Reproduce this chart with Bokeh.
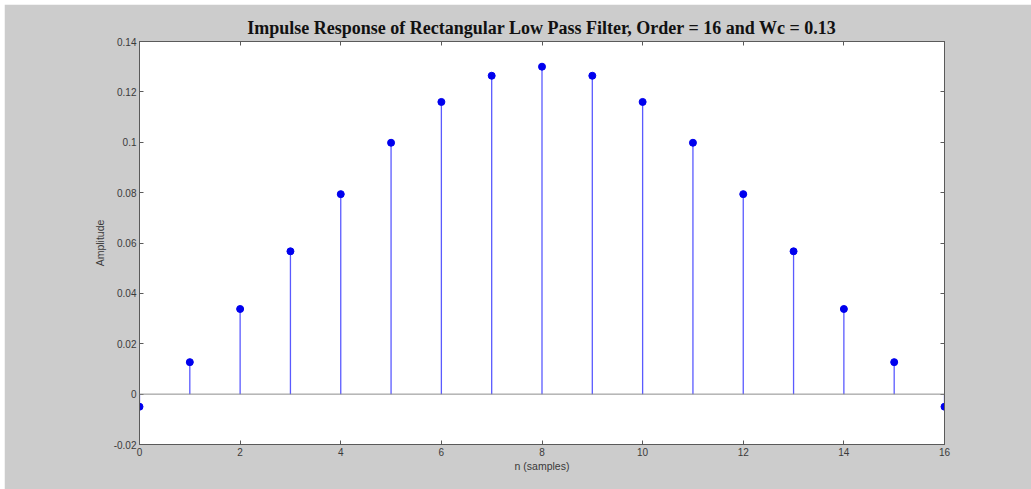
from bokeh.plotting import figure
from bokeh.models import LinearAxis, Range1d, FixedTicker, ColumnDataSource, Span
from bokeh.embed import file_html
from bokeh.resources import INLINE

# Impulse response samples h[n], n = 0..16
n = list(range(17))
h = [-0.0050, 0.0127, 0.0338, 0.0567, 0.0794, 0.0998, 0.1160, 0.1264, 0.1300,
     0.1264, 0.1160, 0.0998, 0.0794, 0.0567, 0.0338, 0.0127, -0.0050]

x_ticks = [0, 2, 4, 6, 8, 10, 12, 14, 16]
y_ticks = [-0.02, 0, 0.02, 0.04, 0.06, 0.08, 0.1, 0.12, 0.14]
y_tick_labels = {-0.02: "-0.02", 0: "0", 0.02: "0.02", 0.04: "0.04", 0.06: "0.06",
                 0.08: "0.08", 0.1: "0.1", 0.12: "0.12", 0.14: "0.14"}

title_text = "Impulse Response of Rectangular Low Pass Filter, Order = 16 and Wc = 0.13"
x_label = "n (samples)"
y_label = "Amplitude"

BG = "#cccccc"
AXIS = "#5a5a5a"
TXT = "#3a3a3a"

p = figure(width=1027, height=485, output_backend="svg", toolbar_location=None,
           x_range=Range1d(0, 16), y_range=Range1d(-0.02, 0.14),
           x_axis_type=None, y_axis_type=None,
           background_fill_color="white", border_fill_color=BG,
           min_border_left=135, min_border_right=87, min_border_top=37, min_border_bottom=45,
           outline_line_color=AXIS, outline_line_width=1,
           margin=(4, 0, 0, 4))
p.xgrid.visible = False
p.ygrid.visible = False

p.title.text = title_text
p.title.text_font = "Liberation Serif"
p.title.text_font_style = "bold"
p.title.text_font_size = "18px"
p.title.text_color = "#111111"
p.title.align = "center"
p.title.offset = 0
p.title.standoff = 8


def style_axis(ax, show_labels):
    ax.axis_line_color = AXIS
    ax.major_tick_line_color = AXIS
    ax.major_tick_in = 4
    ax.major_tick_out = 0
    ax.minor_tick_line_color = None
    ax.major_label_text_font = "Liberation Sans"
    ax.major_label_text_font_size = "10px"
    ax.major_label_text_color = TXT
    ax.axis_label_text_font = "Liberation Sans"
    ax.axis_label_text_font_size = "10.5px"
    ax.axis_label_text_font_style = "normal"
    ax.axis_label_text_color = TXT
    if not show_labels:
        ax.major_label_text_font_size = "0px"
        ax.major_label_text_color = None


xb = LinearAxis(ticker=FixedTicker(ticks=x_ticks), axis_label=x_label)
style_axis(xb, True)
xb.major_label_standoff = 3
xb.axis_label_standoff = 1
p.add_layout(xb, "below")

yl = LinearAxis(ticker=FixedTicker(ticks=y_ticks), axis_label=y_label)
style_axis(yl, True)
yl.major_label_overrides = y_tick_labels
yl.major_label_standoff = 3
yl.axis_label_standoff = 5
p.add_layout(yl, "left")

xt = LinearAxis(ticker=FixedTicker(ticks=x_ticks))
style_axis(xt, False)
p.add_layout(xt, "above")

yr = LinearAxis(ticker=FixedTicker(ticks=y_ticks))
style_axis(yr, False)
p.add_layout(yr, "right")

# zero baseline
p.add_layout(Span(location=0, dimension="width", line_color="#8c8c8c", line_width=1))

src = ColumnDataSource(dict(n=n, h=h, base=[0] * len(n)))
p.segment(x0="n", y0="base", x1="n", y1="h", source=src, line_color="#5a5aff", line_width=1.3)
p.scatter(x="n", y="h", source=src, size=7, fill_color="#0000ee", line_color="#0000ee")

open("out.html", "w").write(file_html(p, INLINE))
